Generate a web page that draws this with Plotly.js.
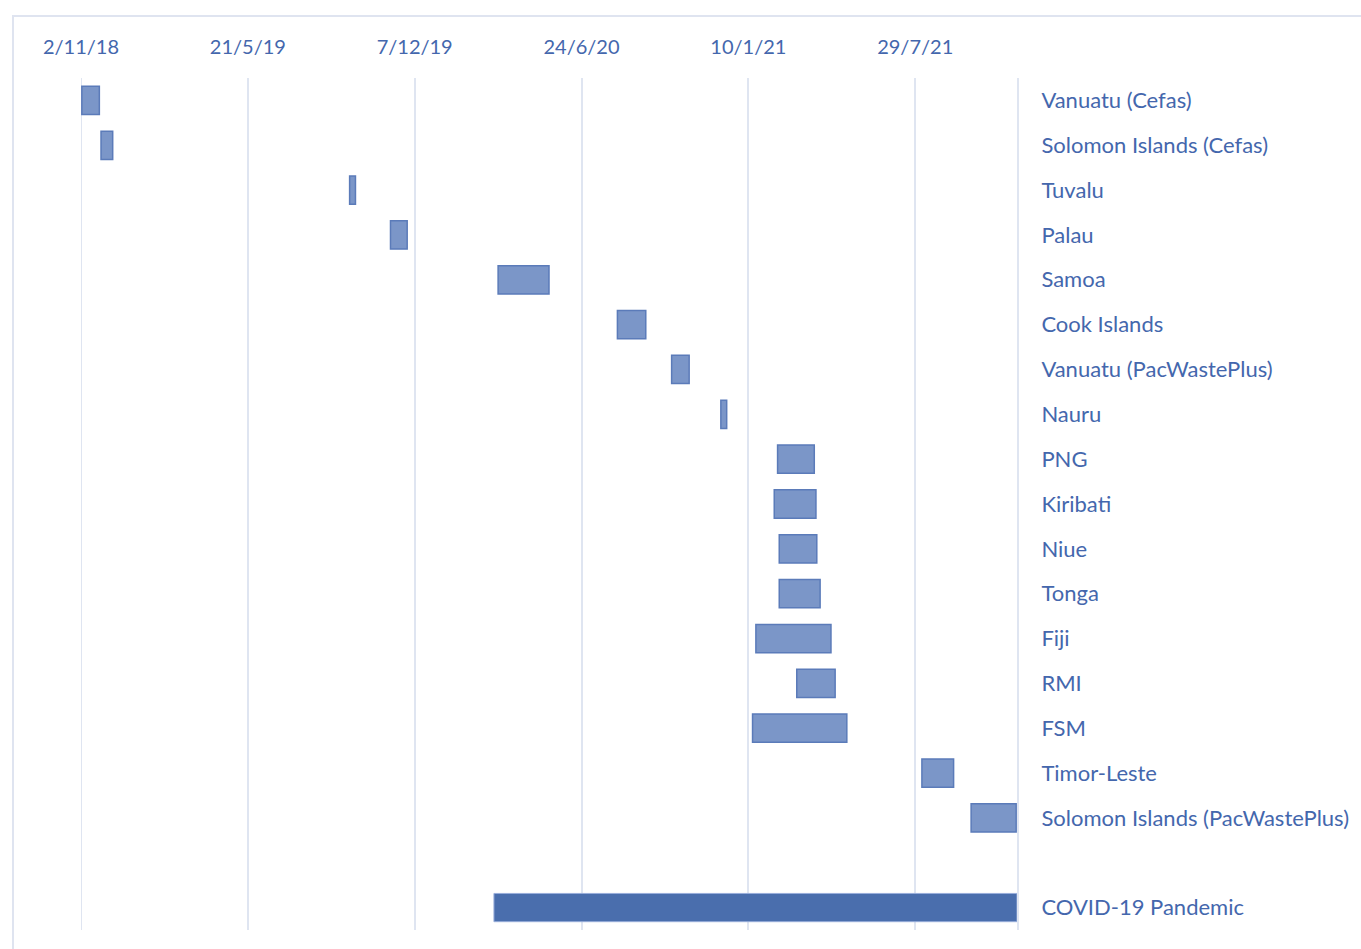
<!DOCTYPE html>
<html>
<head>
<meta charset="utf-8">
<script src="https://cdn.plot.ly/plotly-3.0.1.min.js"></script>
<style>
  html, body { margin: 0; padding: 0; width: 1361px; height: 949px; overflow: hidden; background: #ffffff; }
  #frame { position: absolute; left: 12px; top: 15px; width: 1400px; height: 1000px; border: 2px solid #dfe4f0; box-sizing: border-box; }
  #chart { position: absolute; left: 0; top: 0; width: 1361px; height: 949px; }
</style>
</head>
<body>
<div id="frame"></div>
<div id="chart"></div>
<script>
// Row labels (top to bottom); the blank row separates projects from the pandemic bar
const labels = [
  "Vanuatu (Cefas)",
  "Solomon Islands (Cefas)",
  "Tuvalu",
  "Palau",
  "Samoa",
  "Cook Islands",
  "Vanuatu (PacWastePlus)",
  "Nauru",
  "PNG",
  "Kiribati",
  "Niue",
  "Tonga",
  "Fiji",
  "RMI",
  "FSM",
  "Timor-Leste",
  "Solomon Islands (PacWastePlus)"
];
const startDates = [
  "2018-11-03", "2018-11-26", "2019-09-20", "2019-11-08", "2020-03-16",
  "2020-08-06", "2020-10-10", "2020-12-08", "2021-02-14", "2021-02-10",
  "2021-02-16", "2021-02-16", "2021-01-19", "2021-03-09", "2021-01-15",
  "2021-08-06", "2021-10-04"
];
const endDates = [
  "2018-11-24", "2018-12-10", "2019-09-27", "2019-11-28", "2020-05-16",
  "2020-09-09", "2020-10-31", "2020-12-15", "2021-03-30", "2021-04-01",
  "2021-04-02", "2021-04-06", "2021-04-19", "2021-04-24", "2021-05-08",
  "2021-09-13", "2021-11-27"
];
const blankLabel = " ";
const covidLabel = "COVID-19 Pandemic";
const covidStart = "2020-03-11";
const covidEnd = "2021-11-28";

// Axis settings
const axisStart = "2018-11-02";
const axisEnd = "2021-11-28";
const tickStart = "2018-11-02";
const tickStepDays = 200;

const DAY = 86400000;
const dur = (s, e) => Date.parse(e) - Date.parse(s);
const allRows = labels.concat([blankLabel, covidLabel]);

const textColor = "#4467ad";
const gridColor = "#dfe5f1";
const family = "Lato, 'Open Sans', sans-serif";
const tickFont = { family: family, size: 20, color: textColor };
const labelFont = { family: family, size: 22, color: textColor };

const projects = {
  type: "bar",
  orientation: "h",
  y: labels,
  base: startDates,
  x: startDates.map((s, i) => dur(s, endDates[i])),
  width: 0.63,
  marker: { color: "#7b96c8", line: { color: "#5b7bb9", width: 1.5 } },
  hoverinfo: "y",
  showlegend: false
};
const covid = {
  type: "bar",
  orientation: "h",
  y: [covidLabel],
  base: [covidStart],
  x: [dur(covidStart, covidEnd)],
  width: 0.63,
  marker: { color: "#4a6ead", line: { color: "#98aedb", width: 1 } },
  hoverinfo: "y",
  showlegend: false
};

const layout = {
  width: 1361,
  height: 949,
  paper_bgcolor: "rgba(0,0,0,0)",
  plot_bgcolor: "rgba(0,0,0,0)",
  margin: { l: 81, r: 344, t: 78, b: 19, pad: 0 },
  font: tickFont,
  xaxis: {
    type: "date",
    side: "top",
    range: [axisStart, axisEnd],
    tick0: tickStart,
    dtick: tickStepDays * DAY,
    tickformat: "%-d/%-m/%y",
    showgrid: true,
    gridcolor: gridColor,
    gridwidth: 2,
    zeroline: false,
    showline: false,
    ticks: "",
    ticklabelstandoff: 19,
    tickfont: tickFont,
    fixedrange: true
  },
  yaxis: {
    type: "category",
    categoryorder: "array",
    categoryarray: allRows,
    range: [allRows.length - 0.5, -0.5],
    side: "right",
    showgrid: false,
    zeroline: false,
    showline: true,
    linecolor: gridColor,
    linewidth: 2,
    ticks: "",
    ticklabelstandoff: 18,
    tickfont: labelFont,
    fixedrange: true
  },
  shapes: [{
    type: "line",
    xref: "x", yref: "paper",
    x0: tickStart, x1: tickStart, y0: 0, y1: 1,
    line: { color: gridColor, width: 2 },
    layer: "below"
  }],
  bargap: 0.37
};

Plotly.newPlot("chart", [projects, covid], layout, { displayModeBar: false, staticPlot: true });
</script>
</body>
</html>
